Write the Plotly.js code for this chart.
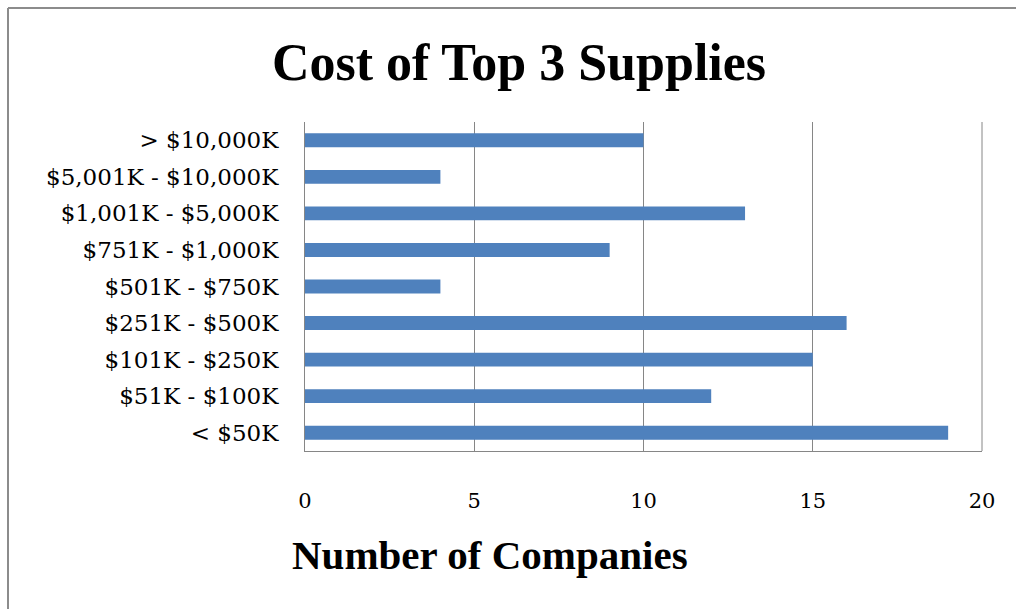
<!DOCTYPE html>
<html>
<head>
<meta charset="utf-8">
<script src="https://cdn.plot.ly/plotly-3.0.1.min.js"></script>
<style>html,body{margin:0;padding:0;background:#fff;}#chart{width:1016px;height:609px;}</style>
</head>
<body>
<div id="chart"></div>
<script>
var categories = ["< $50K", "$51K - $100K", "$101K - $250K", "$251K - $500K", "$501K - $750K", "$751K - $1,000K", "$1,001K - $5,000K", "$5,001K - $10,000K", "> $10,000K"];
var companies = [19, 12, 15, 16, 4, 9, 13, 4, 10];
var xTicks = [0, 5, 10, 15, 20];

var W = 1016, H = 609;
var L = 305, R = 982, T = 122, B = 451;
var pw = R - L, ph = B - T;
function px(x){ return (x - L) / pw; }
function py(y){ return (B - y) / ph; }

var trace = {
  type: 'bar',
  orientation: 'h',
  x: companies,
  y: categories,
  marker: {color: '#4F81BD'},
  hoverinfo: 'x+y'
};

var layout = {
  width: W, height: H,
  margin: {l: L, r: W - R, t: T, b: H - B, pad: 0},
  paper_bgcolor: '#ffffff',
  plot_bgcolor: '#ffffff',
  showlegend: false,
  bargap: 0.62,
  title: {
    text: '<b>Cost of Top 3 Supplies</b>',
    font: {family: 'Liberation Serif', size: 52, color: '#000'},
    xref: 'container', x: 519 / W, xanchor: 'center',
    yref: 'container', y: 1 - 62 / H, yanchor: 'middle'
  },
  xaxis: {
    range: [0, 20],
    tickvals: xTicks,
    ticktext: xTicks.map(String),
    showgrid: true, gridcolor: '#868686', gridwidth: 1,
    showline: true, linecolor: '#868686', linewidth: 1,
    zeroline: false,
    ticks: '',
    ticklabelstandoff: 31,
    tickfont: {family: 'DejaVu Serif', size: 21, color: '#000'},
    fixedrange: true
  },
  yaxis: {
    type: 'category',
    categoryorder: 'array', categoryarray: categories,
    showline: true, linecolor: '#868686', linewidth: 1,
    showgrid: false, zeroline: false,
    ticks: '',
    ticklabelstandoff: 21,
    tickfont: {family: 'DejaVu Serif', size: 23, color: '#000'},
    fixedrange: true
  },
  annotations: [
    {text: '<b>Number of Companies</b>', xref: 'paper', yref: 'paper', x: px(490), y: py(555),
     xanchor: 'center', yanchor: 'middle', showarrow: false,
     font: {family: 'Liberation Serif', size: 41, color: '#000'}}
  ],
  shapes: [
    {type: 'line', xref: 'paper', yref: 'paper', x0: px(8), x1: px(8), y0: py(8), y1: py(620), line: {color: '#8c8c8c', width: 2}},
    {type: 'line', xref: 'paper', yref: 'paper', x0: px(8), x1: px(1030), y0: py(8), y1: py(8), line: {color: '#8c8c8c', width: 2}},
    {type: 'line', xref: 'paper', yref: 'paper', x0: 1, x1: 1, y0: 0, y1: 1, line: {color: '#868686', width: 1}}
  ]
};

Plotly.newPlot('chart', [trace], layout, {displayModeBar: false, staticPlot: true});
</script>
</body>
</html>
